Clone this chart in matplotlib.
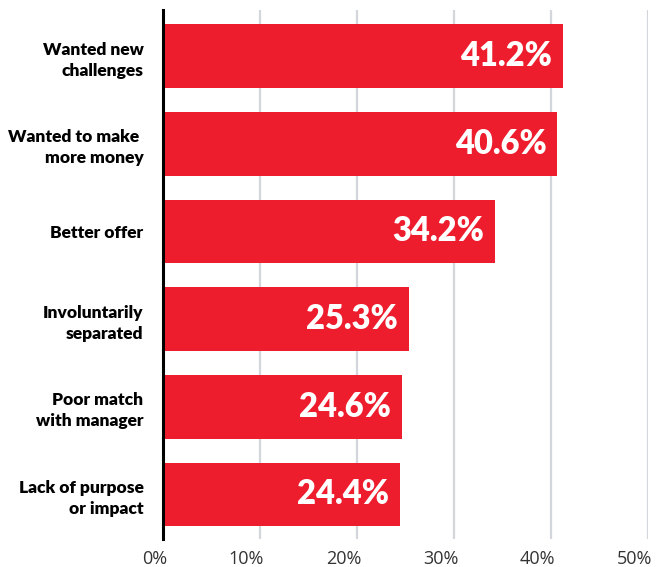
import numpy as np
import matplotlib.pyplot as plt
import matplotlib.transforms as mtransforms
from matplotlib.ticker import FuncFormatter

categories = ["Wanted new\nchallenges", "Wanted to make \nmore money", "Better offer",
              "Involuntarily\nseparated", "Poor match\nwith manager", "Lack of purpose\nor impact"]
values = [41.2, 40.6, 34.2, 25.3, 24.6, 24.4]
ticks = [0, 10, 20, 30, 40, 50]

RED = "#ee1d2e"

fig = plt.figure(figsize=(6.57, 5.67), dpi=100)
ax = fig.add_axes([0.248, 0.049, 0.739, 0.933])

y = np.arange(len(values))
ax.barh(y, values, height=0.727, color=RED, zorder=2)
ax.set_ylim(len(values) - 0.49, -0.523)
ax.set_xlim(0, 50)

for yi, v in zip(y, values):
    ax.text(v - 1.1, yi, f"{v}%", color="white", fontsize=23.5, fontweight="heavy",
            family=["Lato", "DejaVu Sans"], ha="right", va="center", zorder=3)

ax.set_yticks(y)
ax.set_yticklabels(categories, fontsize=12.5, fontweight="heavy",
                   family=["Lato", "DejaVu Sans"], linespacing=1.38)
ax.tick_params(axis="y", length=0, pad=14)

ax.set_xticks(ticks)
ax.xaxis.set_major_formatter(FuncFormatter(lambda v, p: f"{v:.0f}%"))
ax.tick_params(axis="x", length=0, pad=8, labelsize=13, labelcolor="#333333")
shift = mtransforms.ScaledTranslation(4 / 100, 0, fig.dpi_scale_trans)
for lab in ax.get_xticklabels():
    lab.set_family(["Open Sans", "DejaVu Sans"])
    lab.set_horizontalalignment("right")
    lab.set_transform(lab.get_transform() + shift)

ax.grid(axis="x", color="#d3d6db", linewidth=1.6, zorder=0)
ax.set_axisbelow(True)
for s in ["top", "right", "bottom"]:
    ax.spines[s].set_visible(False)
ax.spines["left"].set_linewidth(2.2)
ax.spines["left"].set_color("black")
ax.spines["left"].set_zorder(4)

fig.savefig("out.png", dpi=100)
